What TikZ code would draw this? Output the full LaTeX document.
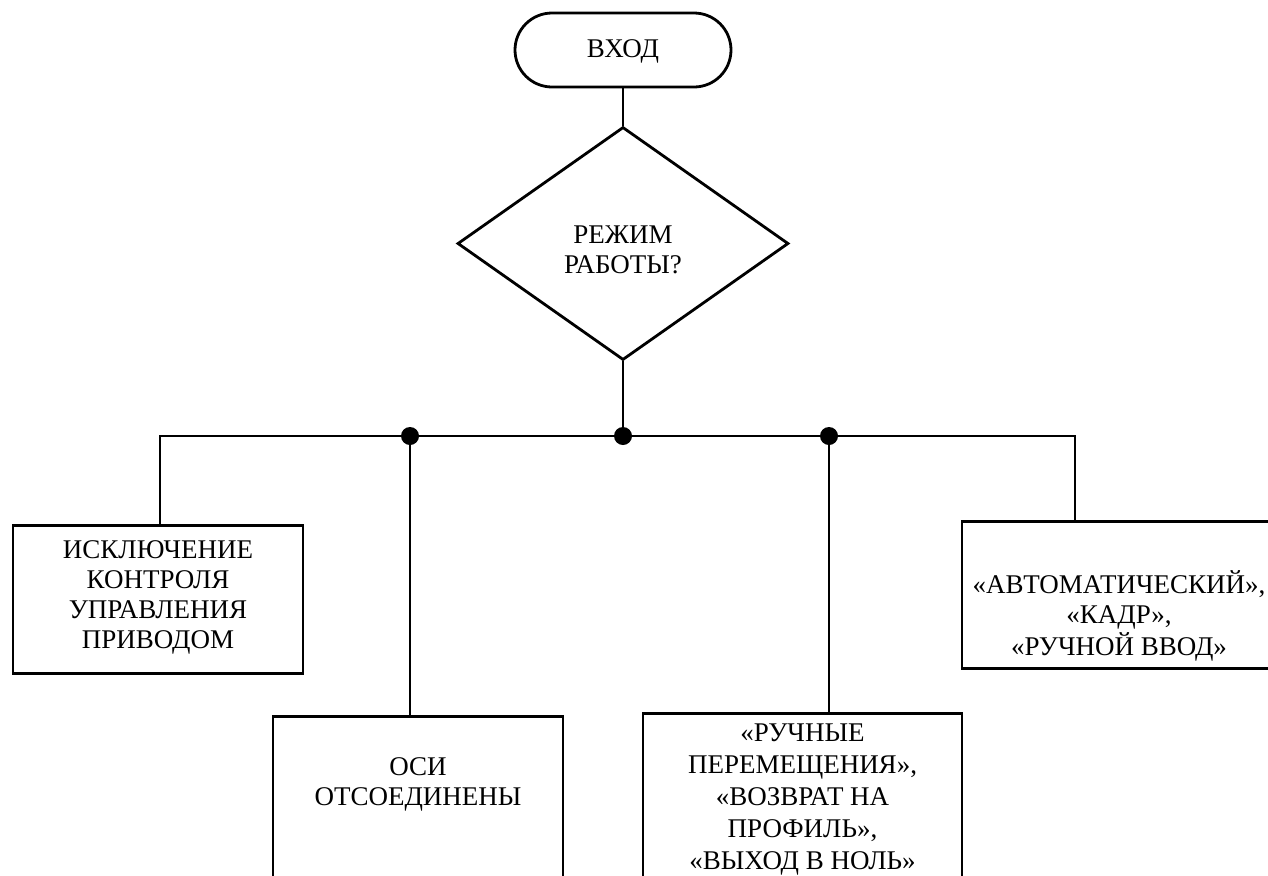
\documentclass[tikz,border=0pt]{standalone}
\usepackage{fontspec}
\setmainfont{Liberation Serif}
\usetikzlibrary{shapes.geometric}
\newcommand{\boxlines}[1]{\begin{tabular}[t]{@{}c@{}}#1\end{tabular}}
\tikzset{
    every node/.style={font=\fontsize{13.5}{15}\selectfont},
    flowline/.style={line width=1.4pt},
    terminal/.style={draw, flowline, rounded corners=18.5pt, minimum width=108pt,
        minimum height=37pt, inner sep=0pt, text height=10pt, text depth=3pt},
    decision/.style={draw, flowline, diamond, aspect=1.42, minimum width=165.5pt,
        minimum height=116.5pt, inner sep=0pt, text height=16pt, text depth=16pt},
    block/.style={draw, flowline, inner sep=0pt, anchor=north},
}

\begin{document}
\begin{tikzpicture}[x=0.5pt, y=-0.5pt]
    \useasboundingbox (0, 0) rectangle (1268, 875);
    \clip (0, 0) rectangle (1268, 875);
    \node[terminal] (entry) at (623, 50) {ВХОД};
    \node[decision] (mode) at (623, 243.5) {\boxlines{РЕЖИМ\\РАБОТЫ?}};
    \coordinate (bus) at (623, 436);
    \coordinate (j1) at (160, 436);
    \coordinate (j2) at (410, 436);
    \coordinate (j3) at (829, 436);
    \coordinate (j4) at (1075, 436);
    \node[block, minimum width=145pt, text height=16.5pt, text depth=57.5pt]
        (ctrl) at (158, 524)
        {\boxlines{ИСКЛЮЧЕНИЕ\\КОНТРОЛЯ\\УПРАВЛЕНИЯ\\ПРИВОДОМ}};
    \node[block, minimum width=145pt, text height=29.5pt, text depth=80pt]
        (axes) at (418, 715) {\boxlines{ОСИ\\ОТСОЕДИНЕНЫ}};
    \node[block, minimum width=159.5pt, text height=14pt, text depth=90pt,
        font=\fontsize{13.5}{16}\selectfont] (manual) at (802.5, 712)
        {\boxlines{«РУЧНЫЕ\\ПЕРЕМЕЩЕНИЯ»,\\«ВОЗВРАТ НА\\ПРОФИЛЬ»,\\«ВЫХОД В НОЛЬ»}};
    \node[block, minimum width=157pt, text height=36pt, text depth=37.5pt]
        (auto) at (1119, 520)
        {\boxlines{«АВТОМАТИЧЕСКИЙ»,\\«КАДР»,\\«РУЧНОЙ ВВОД»}};
    \draw[flowline] (entry.south) -- (mode.north);
    \draw[flowline] (mode.south) -- (bus);
    \draw[flowline] (ctrl.north -| j1) -- (j1) -- (j4) -- (j4 |- auto.north);
    \draw[flowline] (j2) -- (j2 |- axes.north);
    \draw[flowline] (j3) -- (j3 |- manual.north);
    \foreach \j in {j2, bus, j3}
        \fill (\j) circle (4.5pt);
\end{tikzpicture}
\end{document}
